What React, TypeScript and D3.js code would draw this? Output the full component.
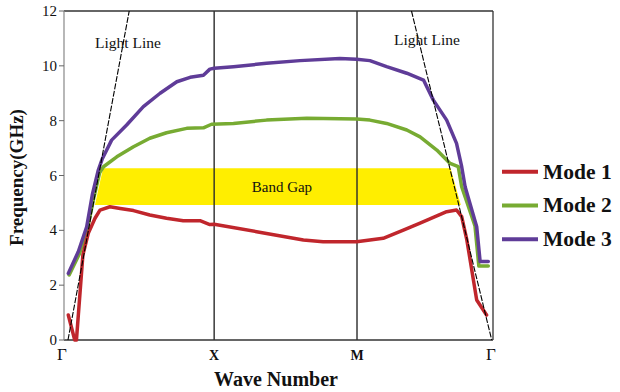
import React from "react";
import * as d3 from "d3";

// ---- data ----
const xTickLabels = ["Γ", "X", "M", "Γ"];
const xTickPositions = [0, 35, 68.3, 100];
const yTicks = [0, 2, 4, 6, 8, 10, 12];

const mode1: [number, number][] = [
  [1.0, 0.91], [2.5, 0.0], [2.9, 0.0], [4.4, 3.1], [5.66, 3.89], [7.23, 4.44],
  [8.39, 4.74], [10.7, 4.86], [13.1, 4.8], [16.2, 4.72], [20.0, 4.56],
  [23.9, 4.44], [27.8, 4.35], [31.7, 4.35], [34.0, 4.21], [35.0, 4.22],
  [44.9, 3.95], [55.8, 3.65], [60.4, 3.58], [68.2, 3.58], [74.4, 3.71],
  [79.1, 4.01], [83.0, 4.26], [89.2, 4.68], [91.5, 4.74], [92.7, 4.5],
  [93.9, 3.65], [96.2, 1.46], [98.5, 0.91],
];

const mode2: [number, number][] = [
  [1.2, 2.37], [3.6, 3.15], [5.5, 4.08], [6.9, 5.15], [8.3, 6.1], [9.2, 6.32],
  [12.3, 6.68], [16.2, 7.05], [20.0, 7.36], [23.9, 7.56], [28.6, 7.72],
  [32.5, 7.74], [34.4, 7.87], [39.5, 7.9], [47.2, 8.02], [56.6, 8.09],
  [68.2, 8.06], [71.3, 8.02], [75.2, 7.9], [79.9, 7.66], [83.0, 7.41],
  [86.9, 6.93], [90.0, 6.44], [91.9, 6.32], [92.7, 5.59], [95.8, 4.16],
  [96.7, 2.7], [98.9, 2.7],
];

const mode3: [number, number][] = [
  [1.0, 2.43], [3.33, 3.22], [5.29, 4.13], [6.6, 5.3], [8.0, 6.2],
  [8.9, 6.6], [11.1, 7.29], [14.6, 7.84], [18.5, 8.51], [22.4, 9.0],
  [26.3, 9.42], [29.4, 9.58], [32.5, 9.66], [34.0, 9.88], [35.0, 9.91],
  [39.5, 9.97], [47.2, 10.09], [55.0, 10.19], [64.3, 10.27], [68.2, 10.24],
  [71.3, 10.19], [75.2, 9.97], [79.9, 9.73], [83.8, 9.48], [86.1, 8.75],
  [89.2, 8.02], [91.5, 7.17], [92.7, 6.32], [93.5, 5.59], [96.2, 4.13],
  [97.0, 2.86], [98.9, 2.86],
];

const bandGap: [number, number][] = [
  [7.2, 4.92], [9.1, 6.26], [90.1, 6.26], [92.5, 4.92],
];

const lightLineLeft: [number, number][] = [[0.93, 0], [15.2, 12]];
const lightLineRight: [number, number][] = [[81.0, 12], [99.7, 0]];

const seriesNames = ["Mode 1", "Mode 2", "Mode 3"];
const seriesColors = ["#c0262c", "#77ab32", "#5f3c98"];

export default function App() {
  const W = 620, H = 392;
  const left = 64, right = 493, top = 11, bottom = 340;
  const x = d3.scaleLinear().domain([0, 100]).range([left, right]);
  const y = d3.scaleLinear().domain([0, 12]).range([bottom, top]);
  const line = d3.line<[number, number]>().x(d => x(d[0])).y(d => y(d[1]));
  const serif = "'Liberation Serif', 'Times New Roman', serif";
  const series = [mode1, mode2, mode3];
  const drawOrder = [1, 2, 0];

  return (
    <svg width={W} height={H} style={{ position: "absolute", left: 0, top: 0, background: "#fff" }} fontFamily={serif}>
      <rect x={0} y={0} width={W} height={H} fill="#fff" />
      {/* band gap */}
      <path d={line(bandGap)! + "Z"} fill="#ffee00" />
      <text x={x(50.8)} y={y(5.5) + 3} textAnchor="middle" fontSize={15} fill="#111">Band Gap</text>

      {/* symmetry lines */}
      {xTickPositions.slice(1, 3).map((k, i) => (
        <line key={i} x1={x(k)} x2={x(k)} y1={top} y2={bottom} stroke="#2a2a2a" strokeWidth={1.4} />
      ))}

      {/* frame */}
      <line x1={left} x2={right} y1={top} y2={top} stroke="#333" strokeWidth={1.3} />
      <line x1={right} x2={right} y1={top} y2={bottom} stroke="#333" strokeWidth={1.3} />
      <line x1={left} x2={right} y1={bottom} y2={bottom} stroke="#333" strokeWidth={1.3} />
      <line x1={left} x2={left} y1={top} y2={bottom} stroke="#888" strokeWidth={1.2} />

      {/* y ticks */}
      {yTicks.map(t => (
        <g key={t}>
          <line x1={left - 5} x2={left} y1={y(t)} y2={y(t)} stroke="#666" strokeWidth={1} />
          <text x={left - 7} y={y(t) + 5} textAnchor="end" fontSize={15} fill="#111">{t}</text>
        </g>
      ))}

      {/* x tick labels */}
      {xTickLabels.map((lab, i) => (
        <text key={i} x={x(xTickPositions[i]) - (lab === "Γ" ? 2 : 0)} y={360}
          textAnchor="middle" fontSize={lab === "Γ" ? 17 : 14} fontWeight={lab === "Γ" ? "normal" : "bold"} fill="#111">{lab}</text>
      ))}

      {/* curves */}
      {drawOrder.map(i => (
        <path key={i} d={line(series[i])!} fill="none" stroke={seriesColors[i]} strokeWidth={3.5}
          strokeLinejoin="round" strokeLinecap="round" />
      ))}

      {/* light lines */}
      <path d={line(lightLineLeft)!} stroke="#000" strokeWidth={1.1} strokeDasharray="6,1.5" fill="none" />
      <path d={line(lightLineRight)!} stroke="#000" strokeWidth={1.1} strokeDasharray="6,1.5" fill="none" />
      <text x={128} y={48} textAnchor="middle" fontSize={15.5} fill="#111">Light Line</text>
      <text x={427} y={45} textAnchor="middle" fontSize={15.5} fill="#111">Light Line</text>

      {/* axis titles */}
      <text transform={`translate(23,177.5) rotate(-90)`} textAnchor="middle" fontSize={19} fontWeight="bold" fill="#111">Frequency(GHz)</text>
      <text x={276} y={386} textAnchor="middle" fontSize={20} fontWeight="bold" fill="#111">Wave Number</text>

      {/* legend */}
      {seriesNames.map((n, i) => (
        <g key={n} transform={`translate(0,${171.7 + i * 33.8})`}>
          <line x1={502} x2={538} y1={0} y2={0} stroke={seriesColors[i]} strokeWidth={4} />
          <text x={543} y={6.8} fontSize={21.5} fontWeight="bold" fill="#111">{n}</text>
        </g>
      ))}
    </svg>
  );
}
